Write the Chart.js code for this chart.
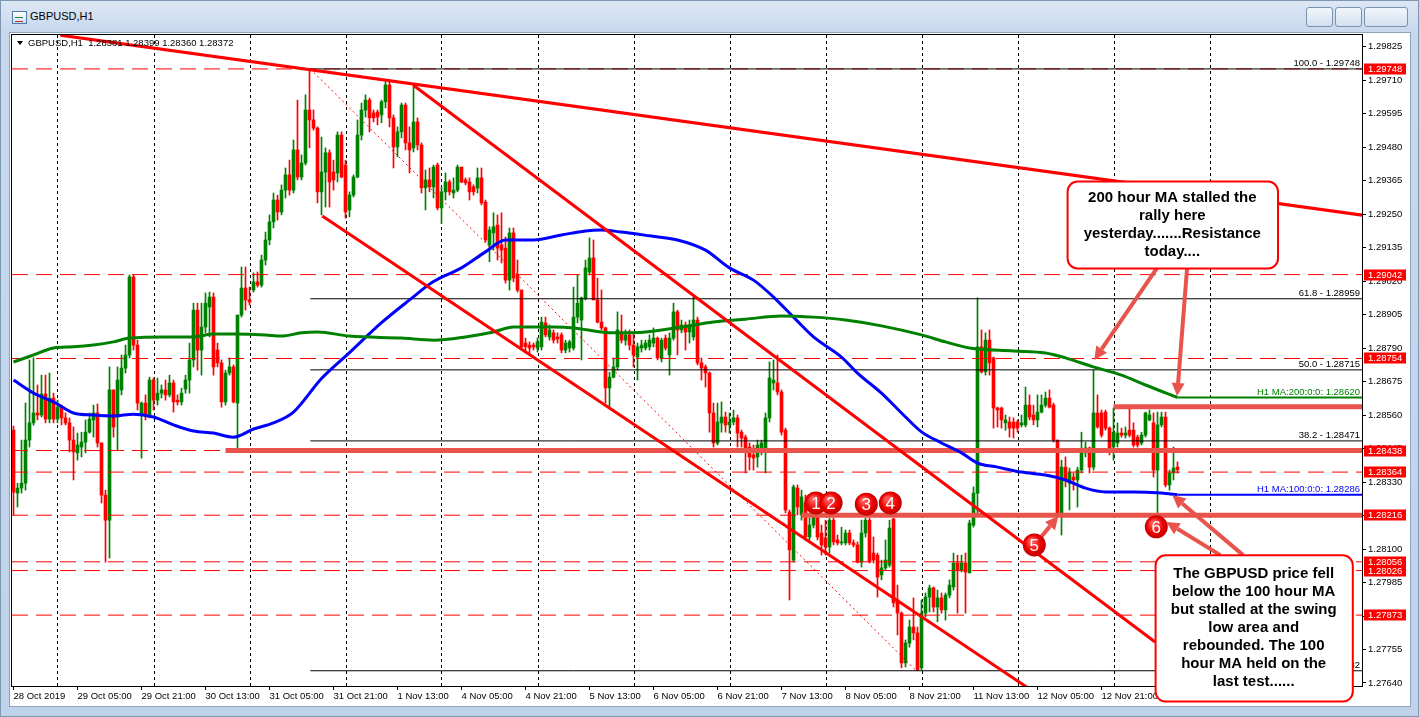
<!DOCTYPE html>
<html><head><meta charset="utf-8">
<script src="https://cdn.jsdelivr.net/npm/chart.js@4.4.0/dist/chart.umd.min.js"></script>
<style>
html,body{margin:0;padding:0;width:1419px;height:717px;overflow:hidden;background:#c4d6ec;font-family:'Liberation Sans',Arial,sans-serif;}
#win{position:absolute;left:0;top:0;width:1417px;height:715px;border:1px solid #7f96b2;background:linear-gradient(#dce7f4 0px,#c8d9ee 30px,#bfd2ea 100%);}
#ttl{position:absolute;left:30px;top:10px;font-size:11px;color:#000;}
#icon{position:absolute;left:12px;top:11px;width:13px;height:11px;border:1px solid #4a78b0;background:linear-gradient(#ffffff,#cfe0f5);}
#icon:after{content:"";position:absolute;left:2px;top:5px;width:8px;height:3px;border-top:1px solid #2e7d32;border-bottom:1px solid #c62828;}
.btn{position:absolute;top:7px;height:18px;border:1px solid #7d93ad;border-radius:3px;background:linear-gradient(#f2f6fb,#d3e0ef);}
#client{position:absolute;left:9px;top:32px;width:1400px;height:673px;background:#fff;border:1px solid #8da3bd;}
canvas{position:absolute;left:0;top:0;}
</style></head>
<body>
<div id="win"></div>
<div id="icon"></div><div id="ttl">GBPUSD,H1</div>
<div class="btn" style="left:1306px;width:25px"></div>
<div class="btn" style="left:1335px;width:25px"></div>
<div class="btn" style="left:1364px;width:42px"></div>
<div id="client"></div>
<canvas id="c" width="1419" height="717"></canvas>
<script>
// ---------- data (hourly GBPUSD candles, 28 Oct 13:00 -> 13 Nov 16:00) ----------
const opens = [
1.28508,1.28292,1.28309,1.28326,1.28474,1.28533,1.28567,1.28560,1.28632,1.28546,
1.28618,1.28546,1.28587,1.28550,1.28533,1.28474,1.28430,1.28450,1.28467,1.28501,
1.28543,1.28567,1.28464,1.28285,1.28199,1.28646,1.28553,1.28646,1.28721,1.28766,
1.29034,1.28800,1.28560,1.28601,1.28560,1.28680,1.28611,1.28635,1.28646,1.28629,
1.28670,1.28611,1.28605,1.28649,1.28680,1.28749,1.28920,1.28783,1.28862,1.28931,
1.28965,1.28783,1.28739,1.28605,1.28704,1.28725,1.28601,1.28903,1.28996,1.28955,
1.28989,1.29017,1.29006,1.29092,1.29161,1.29223,1.29298,1.29257,1.29332,1.29384,
1.29332,1.29470,1.29377,1.29425,1.29607,1.29573,1.29545,1.29326,1.29394,1.29460,
1.29394,1.29391,1.29521,1.29418,1.29264,1.29315,1.29377,1.29521,1.29607,1.29641,
1.29597,1.29600,1.29590,1.29635,1.29693,1.29580,1.29480,1.29532,1.29624,1.29494,
1.29477,1.29566,1.29487,1.29340,1.29367,1.29343,1.29418,1.29271,1.29326,1.29360,
1.29322,1.29332,1.29411,1.29367,1.29360,1.29343,1.29339,1.29374,1.29291,1.29144,
1.29185,1.29212,1.29144,1.29133,1.29023,1.29185,1.29041,1.28989,1.28807,1.28800,
1.28800,1.28790,1.28794,1.28876,1.28828,1.28842,1.28828,1.28835,1.28783,1.28790,
1.28790,1.28896,1.28886,1.28962,1.29051,1.29099,1.28955,1.28879,1.28859,1.28653,
1.28690,1.28725,1.28845,1.28817,1.28835,1.28800,1.28759,1.28790,1.28790,1.28794,
1.28807,1.28824,1.28756,1.28824,1.28766,1.28824,1.28914,1.28852,1.28869,1.28845,
1.28828,1.28886,1.28739,1.28725,1.28704,1.28567,1.28464,1.28533,1.28553,1.28526,
1.28536,1.28550,1.28501,1.28484,1.28450,1.28423,1.28416,1.28440,1.28447,1.28550,
1.28670,1.28670,1.28639,1.28508,1.28227,1.28062,1.28309,1.28217,1.28258,1.28141,
1.28182,1.28224,1.28155,1.28138,1.28107,1.28199,1.28131,1.28121,1.28121,1.28155,
1.28121,1.28114,1.28055,1.28155,1.28199,1.28086,1.28079,1.28011,1.28035,1.28045,
1.28203,1.27925,1.27880,1.27709,1.27777,1.27832,1.27812,1.27692,1.27880,1.27935,
1.27966,1.27901,1.27932,1.27891,1.27942,1.27970,1.28052,1.28028,1.28052,1.28018,
1.28182,1.28292,1.28794,1.28708,1.28817,1.28756,1.28584,1.28584,1.28533,1.28536,
1.28536,1.28536,1.28526,1.28526,1.28594,1.28560,1.28543,1.28570,1.28594,1.28618,
1.28594,1.28474,1.28224,1.28381,1.28326,1.28347,1.28337,1.28371,1.28430,1.28447,
1.28381,1.28567,1.28567,1.28570,1.28515,1.28450,1.28464,1.28498,1.28491,1.28508,
1.28508,1.28484,1.28464,1.28491,1.28543,1.28533,1.28371,1.28526,1.28553,1.28320,
1.28361,1.28381];
const highs = [
1.28522,1.28326,1.28474,1.28601,1.28749,1.28756,1.28663,1.28697,1.28697,1.28704,
1.28635,1.28611,1.28594,1.28567,1.28550,1.28519,1.28498,1.28501,1.28543,1.28567,
1.28594,1.28598,1.28464,1.28302,1.28725,1.28646,1.28725,1.28766,1.28800,1.29041,
1.29041,1.28817,1.28605,1.28629,1.28690,1.28687,1.28687,1.28663,1.28680,1.28697,
1.28680,1.28629,1.28652,1.28697,1.28807,1.28944,1.28944,1.28944,1.28979,1.28982,
1.28979,1.28807,1.28749,1.28714,1.28756,1.28732,1.28903,1.29068,1.29068,1.28999,
1.29048,1.29051,1.29109,1.29188,1.29247,1.29322,1.29315,1.29350,1.29408,1.29435,
1.29504,1.29641,1.29453,1.29659,1.29748,1.29607,1.29549,1.29514,1.29477,1.29470,
1.29435,1.29532,1.29532,1.29435,1.29326,1.29384,1.29573,1.29631,1.29659,1.29648,
1.29607,1.29607,1.29641,1.29703,1.29710,1.29590,1.29549,1.29631,1.29631,1.29549,
1.29686,1.29580,1.29494,1.29401,1.29408,1.29418,1.29425,1.29343,1.29391,1.29367,
1.29374,1.29418,1.29411,1.29374,1.29374,1.29350,1.29408,1.29408,1.29298,1.29206,
1.29254,1.29247,1.29254,1.29171,1.29202,1.29202,1.29092,1.28989,1.28824,1.28811,
1.28807,1.28824,1.28896,1.28896,1.28869,1.28852,1.28842,1.28842,1.28817,1.28817,
1.28999,1.29041,1.28965,1.29092,1.29168,1.29161,1.29030,1.28989,1.28862,1.28707,
1.28756,1.28914,1.28903,1.28852,1.28852,1.28842,1.28807,1.28817,1.28817,1.28835,
1.28859,1.28828,1.28824,1.28835,1.28842,1.28944,1.28920,1.28886,1.28879,1.28886,
1.28965,1.28896,1.28756,1.28732,1.28708,1.28601,1.28601,1.28605,1.28570,1.28567,
1.28577,1.28560,1.28508,1.28491,1.28464,1.28457,1.28474,1.28474,1.28567,1.28742,
1.28749,1.28766,1.28646,1.28515,1.28234,1.28320,1.28320,1.28302,1.28285,1.28206,
1.28241,1.28234,1.28182,1.28199,1.28206,1.28206,1.28148,1.28175,1.28165,1.28165,
1.28131,1.28124,1.28199,1.28206,1.28206,1.28141,1.28086,1.28062,1.28131,1.28199,
1.28206,1.27976,1.27884,1.27788,1.27856,1.27932,1.27832,1.27925,1.27949,1.27976,
1.27970,1.27959,1.27949,1.27949,1.27994,1.28086,1.28079,1.28079,1.28086,1.28199,
1.28313,1.28962,1.28852,1.28842,1.28852,1.28759,1.28587,1.28587,1.28560,1.28553,
1.28550,1.28543,1.28560,1.28656,1.28629,1.28594,1.28629,1.28629,1.28639,1.28646,
1.28601,1.28474,1.28405,1.28416,1.28378,1.28361,1.28381,1.28501,1.28467,1.28450,
1.28714,1.28629,1.28577,1.28577,1.28519,1.28584,1.28533,1.28515,1.28519,1.28584,
1.28533,1.28491,1.28501,1.28570,1.28577,1.28567,1.28570,1.28570,1.28570,1.28371,
1.28450,1.28399];
const lows = [
1.28217,1.28244,1.28292,1.28302,1.28450,1.28525,1.28543,1.28553,1.28533,1.28533,
1.28533,1.28533,1.28526,1.28526,1.28433,1.28337,1.28405,1.28416,1.28430,1.28498,
1.28484,1.28450,1.28258,1.28055,1.28069,1.28484,1.28440,1.28629,1.28704,1.28756,
1.28783,1.28577,1.28412,1.28543,1.28550,1.28577,1.28594,1.28618,1.28611,1.28622,
1.28570,1.28594,1.28594,1.28635,1.28635,1.28725,1.28714,1.28697,1.28842,1.28828,
1.28697,1.28725,1.28587,1.28594,1.28697,1.28601,1.28447,1.28896,1.28920,1.28938,
1.28982,1.28999,1.28999,1.29075,1.29144,1.29202,1.29229,1.29247,1.29305,1.29315,
1.29322,1.29367,1.29367,1.29418,1.29477,1.29538,1.29288,1.29247,1.29274,1.29274,
1.29332,1.29360,1.29374,1.29236,1.29240,1.29308,1.29374,1.29504,1.29583,1.29532,
1.29566,1.29556,1.29563,1.29614,1.29549,1.29408,1.29446,1.29511,1.29470,1.29391,
1.29463,1.29470,1.29322,1.29264,1.29326,1.29305,1.29264,1.29219,1.29298,1.29315,
1.29305,1.29326,1.29357,1.29350,1.29298,1.29315,1.29322,1.29281,1.29154,1.29086,
1.29126,1.29092,1.29082,1.29013,1.28989,1.29017,1.28982,1.28783,1.28773,1.28773,
1.28783,1.28776,1.28783,1.28828,1.28817,1.28807,1.28807,1.28773,1.28773,1.28776,
1.28783,1.28876,1.28749,1.28955,1.29041,1.28955,1.28876,1.28852,1.28601,1.28584,
1.28687,1.28714,1.28807,1.28800,1.28783,1.28725,1.28680,1.28776,1.28783,1.28783,
1.28794,1.28749,1.28742,1.28783,1.28697,1.28817,1.28766,1.28842,1.28783,1.28807,
1.28817,1.28732,1.28680,1.28656,1.28501,1.28450,1.28457,1.28501,1.28501,1.28498,
1.28526,1.28450,1.28450,1.28361,1.28371,1.28371,1.28381,1.28423,1.28361,1.28536,
1.28646,1.28629,1.28491,1.28224,1.27925,1.28055,1.28217,1.28199,1.28131,1.28131,
1.28172,1.28131,1.28079,1.28079,1.28086,1.28114,1.28114,1.28114,1.28114,1.28114,
1.28107,1.28052,1.28038,1.28141,1.28052,1.28052,1.27935,1.27994,1.28028,1.28038,
1.27901,1.27805,1.27692,1.27695,1.27763,1.27788,1.27682,1.27685,1.27867,1.27884,
1.27884,1.27850,1.27880,1.27856,1.27932,1.27959,1.27880,1.28021,1.27880,1.28018,
1.28175,1.28224,1.28704,1.28697,1.28697,1.28515,1.28519,1.28515,1.28508,1.28484,
1.28481,1.28501,1.28519,1.28519,1.28543,1.28526,1.28519,1.28567,1.28587,1.28584,
1.28467,1.28217,1.28148,1.28313,1.28234,1.28302,1.28244,1.28361,1.28416,1.28361,
1.28371,1.28515,1.28484,1.28508,1.28423,1.28405,1.28450,1.28484,1.28481,1.28484,
1.28450,1.28450,1.28457,1.28484,1.28540,1.28347,1.28224,1.28519,1.28313,1.28302,
1.28337,1.28360];
const closes = [
1.28295,1.28309,1.28326,1.28474,1.28533,1.28567,1.28560,1.28632,1.28546,1.28618,
1.28546,1.28587,1.28550,1.28533,1.28474,1.28433,1.28457,1.28467,1.28501,1.28546,
1.28567,1.28464,1.28285,1.28199,1.28646,1.28519,1.28680,1.28721,1.28766,1.29034,
1.28800,1.28601,1.28601,1.28560,1.28680,1.28611,1.28635,1.28646,1.28629,1.28670,
1.28605,1.28605,1.28635,1.28680,1.28749,1.28920,1.28783,1.28862,1.28944,1.28965,
1.28725,1.28739,1.28605,1.28704,1.28725,1.28605,1.28903,1.28996,1.28955,1.28948,
1.29017,1.29006,1.29092,1.29161,1.29223,1.29298,1.29257,1.29332,1.29384,1.29332,
1.29470,1.29377,1.29425,1.29607,1.29573,1.29545,1.29326,1.29394,1.29460,1.29360,
1.29367,1.29521,1.29377,1.29257,1.29315,1.29377,1.29521,1.29607,1.29641,1.29580,
1.29580,1.29583,1.29635,1.29693,1.29580,1.29480,1.29532,1.29624,1.29494,1.29470,
1.29566,1.29487,1.29340,1.29367,1.29343,1.29411,1.29271,1.29326,1.29360,1.29326,
1.29332,1.29411,1.29360,1.29357,1.29326,1.29326,1.29374,1.29288,1.29161,1.29195,
1.29206,1.29133,1.29126,1.29023,1.29185,1.29030,1.28989,1.28794,1.28794,1.28790,
1.28794,1.28811,1.28879,1.28835,1.28852,1.28817,1.28821,1.28783,1.28807,1.28811,
1.28896,1.28944,1.28962,1.29065,1.29099,1.28955,1.28879,1.28859,1.28653,1.28690,
1.28725,1.28852,1.28817,1.28835,1.28800,1.28766,1.28794,1.28800,1.28807,1.28817,
1.28824,1.28756,1.28817,1.28790,1.28824,1.28914,1.28852,1.28869,1.28845,1.28869,
1.28886,1.28739,1.28721,1.28704,1.28567,1.28464,1.28536,1.28553,1.28526,1.28536,
1.28550,1.28498,1.28481,1.28447,1.28416,1.28412,1.28457,1.28464,1.28550,1.28687,
1.28680,1.28639,1.28501,1.28234,1.28097,1.28313,1.28244,1.28279,1.28141,1.28182,
1.28224,1.28141,1.28114,1.28107,1.28199,1.28124,1.28121,1.28124,1.28155,1.28121,
1.28114,1.28055,1.28155,1.28199,1.28055,1.28062,1.28004,1.28035,1.28062,1.28172,
1.27915,1.27880,1.27709,1.27777,1.27832,1.27812,1.27685,1.27880,1.27935,1.27966,
1.27901,1.27932,1.27891,1.27942,1.27976,1.28052,1.28028,1.28052,1.28021,1.28189,
1.28292,1.28794,1.28708,1.28817,1.28739,1.28584,1.28577,1.28543,1.28543,1.28515,
1.28515,1.28515,1.28533,1.28594,1.28553,1.28543,1.28570,1.28594,1.28618,1.28587,
1.28474,1.28224,1.28381,1.28337,1.28364,1.28337,1.28371,1.28440,1.28447,1.28381,
1.28567,1.28519,1.28491,1.28515,1.28447,1.28501,1.28498,1.28491,1.28498,1.28491,
1.28457,1.28457,1.28491,1.28567,1.28560,1.28371,1.28526,1.28553,1.28320,1.28361,
1.28378,1.28372];

// moving averages (bar index -> value)
const ma100Idx = [0,5,10,15,20,25,30,35,40,45,50,55,60,65,70,77,84,92,99,105,112,118,123,130,137,143,147,152,159,166,173,179,185,190,195,200,207,211,217,222,227,232,237,241,246,252,258,263,268,273,280,287,291];
const ma100Val = [1.28680,1.28635,1.28605,1.28567,1.28560,1.28557,1.28563,1.28553,1.28526,1.28505,1.28498,1.28484,1.28512,1.28533,1.28570,1.28685,1.28774,1.28877,1.28955,1.29018,1.29065,1.29120,1.29161,1.29161,1.29178,1.29192,1.29195,1.29188,1.29175,1.29161,1.29126,1.29065,1.29023,1.28965,1.28896,1.28828,1.28759,1.28704,1.28635,1.28567,1.28502,1.28464,1.28430,1.28395,1.28381,1.28364,1.28354,1.28337,1.28309,1.28296,1.28296,1.28292,1.28286];
const ma200Idx = [0,5,10,15,20,25,29,38,45,50,55,63,67,72,76,84,97,105,113,120,125,135,140,147,150,158,167,175,183,192,200,208,217,227,233,239,250,258,263,270,277,283,291];
const ma200Val = [1.28742,1.28766,1.28790,1.28794,1.28800,1.28811,1.28824,1.28828,1.28828,1.28838,1.28838,1.28835,1.28831,1.28842,1.28845,1.28831,1.28824,1.28817,1.28828,1.28845,1.28862,1.28862,1.28859,1.28845,1.28842,1.28845,1.28862,1.28879,1.28889,1.28900,1.28896,1.28886,1.28866,1.28835,1.28811,1.28790,1.28780,1.28773,1.28756,1.28725,1.28697,1.28663,1.28620];
const ma100Last = 1.28286, ma200Last = 1.28620;

// axis ticks / labels
const priceTicks = [1.29825,1.29710,1.29595,1.29480,1.29365,1.29250,1.29135,1.29020,1.28905,1.28790,1.28675,1.28560,1.28445,1.28330,1.28215,1.28100,1.27985,1.27870,1.27755,1.27640];
const timeTickIdx = [0,16,32,48,64,80,96,112,128,144,160,176,192,208,224,240,256,272,288];
const timeLabels = ['28 Oct 2019','29 Oct 05:00','29 Oct 21:00','30 Oct 13:00','31 Oct 05:00','31 Oct 21:00','1 Nov 13:00','4 Nov 05:00','4 Nov 21:00','5 Nov 13:00','6 Nov 05:00','6 Nov 21:00','7 Nov 13:00','8 Nov 05:00','8 Nov 21:00','11 Nov 13:00','12 Nov 05:00','12 Nov 21:00','13 Nov 13:00'];
const dayIdx = [11,35,59,83,107,131,155,179,203,227,251,275,299];

// levels and drawn objects
const redLevels = [1.29748,1.29042,1.28754,1.28438,1.28364,1.28216,1.28056,1.28026,1.27873];
const fibLevels = [1.29748,1.28959,1.28715,1.28471,1.27682];
const fibNames = ['100.0','61.8','50.0','38.2','0.0'];
const zoneLevels = [1.28438,1.28216,1.28588];
const zoneStartIdx = [53,197,275];
const trendX = [[11.7,337.2],[99.9,285.4],[77.2,258.1],[74.2,225.7]];
const trendY = [[1.29864,1.29246],[1.29693,1.27781],[1.29243,1.27582],[1.29748,1.27682]];
const markerText = ['1','2','3','4','5','6'];
const markerIdx = [200.6,204.4,213.2,219.2,255.2,285.7];
const markerVal = [1.28258,1.28258,1.28254,1.28258,1.28114,1.28176];
const arrowFrom = [[285.9,1.29065],[293.4,1.29065],[307.4,1.28079],[301.7,1.28079],[256.7,1.28138]];
const arrowTo = [[270.2,1.28749],[290.9,1.28625],[289.7,1.28285],[288.2,1.28193],[261.2,1.28213]];
const note1 = ['200 hour MA stalled the','rally here','yesterday.......Resistance','today....'];
const note2 = ['The GBPUSD price fell','below the 100 hour MA','but stalled at the swing','low area and','rebounded. The 100','hour MA held on the','last test......'];
const note1Box = [263.4,316.0,1.29363,1.29065];
const note2Box = [285.4,334.7,1.28080,1.27578];
const header = ['GBPUSD,H1','1.28381','1.28399','1.28360','1.28372'];

// ---------- chart ----------
const FONT = "'Liberation Sans', Arial, sans-serif";
const XMIN = -0.375, XMAX = 337.125, YMIN = 1.276297, YMAX = 1.298645;
const GREEN = '#008000', RED = '#ff0000', SALMON = '#e8544c';
const cColor = closes.map((c,i)=> c >= opens[i] ? GREEN : RED);

const datasets = [];
datasets.push({type:'bar', data: lows.map((l,i)=>({x:i, y:[l, highs[i]]})), backgroundColor:cColor, barThickness:1, grouped:false, order:50, clip:0});
datasets.push({type:'bar', data: opens.map((o,i)=>({x:i, y:[o, closes[i]]})), backgroundColor:cColor, barThickness:3, minBarLength:1, grouped:false, order:49, clip:0});
function line(xs, ys, color, width, dash, order, smooth){
  datasets.push({type:'line', data: xs.map((x,i)=>({x, y:ys[i]})), borderColor:color, borderWidth:width, borderDash:dash||[], pointRadius:0, fill:false, tension:0, cubicInterpolationMode: smooth?'monotone':'default', order, clip:0, borderCapStyle:'butt'});
}
redLevels.forEach(v=> line([XMIN, XMAX+1], [v, v], RED, 1, [16,8], 40));
fibLevels.forEach(v=> line([74.2, XMAX+1], [v, v], '#000', 1, null, 39));
line([trendX[3][0], trendX[3][1]], trendY[3], RED, 1, [2,3], 38);
zoneLevels.forEach((v,k)=> line([zoneStartIdx[k], XMAX+1], [v, v], SALMON, 5, null, 30));
line(ma200Idx, ma200Val, GREEN, 3, null, 20, true);
line(ma100Idx, ma100Val, '#0000ff', 3, null, 20, true);
line([291, XMAX+1], [ma200Last, ma200Last], GREEN, 2, null, 21);
line([291, XMAX+1], [ma100Last, ma100Last], '#0000ff', 2, null, 21);
for (let k=0;k<3;k++) line(trendX[k], trendY[k], RED, 3, null, 10);

function arrow(ctx, x1,y1,x2,y2){
  const a = Math.atan2(y2-y1, x2-x1), L = 13, W = 6.5;
  const bx = x2 - L*Math.cos(a), by = y2 - L*Math.sin(a);
  ctx.strokeStyle = SALMON; ctx.fillStyle = SALMON; ctx.lineWidth = 4; ctx.setLineDash([]);
  ctx.beginPath(); ctx.moveTo(x1,y1); ctx.lineTo(bx,by); ctx.stroke();
  ctx.beginPath(); ctx.moveTo(x2,y2);
  ctx.lineTo(bx + W*Math.sin(a), by - W*Math.cos(a));
  ctx.lineTo(bx - W*Math.sin(a), by + W*Math.cos(a)); ctx.closePath(); ctx.fill();
}
function callout(ctx, x, y, box, lines){
  const l = x.getPixelForValue(box[0]), r = x.getPixelForValue(box[1]);
  const t = y.getPixelForValue(box[2]), b = y.getPixelForValue(box[3]);
  ctx.beginPath(); ctx.roundRect(l+0.5, t+0.5, r-l, b-t, 10);
  ctx.fillStyle = '#fff'; ctx.fill(); ctx.lineWidth = 2; ctx.strokeStyle = RED; ctx.stroke();
  ctx.fillStyle = '#000'; ctx.font = 'bold 15px ' + FONT; ctx.textAlign = 'center'; ctx.textBaseline = 'middle';
  const lh = 18, y0 = (t+b)/2 - (lines.length-1)*lh/2;
  lines.forEach((s,k)=> ctx.fillText(s, (l+r)/2, y0 + k*lh));
}

const mt4 = {
  id:'mt4',
  beforeDatasetsDraw(chart){
    const {ctx, chartArea:a, scales:{x}} = chart;
    ctx.save(); ctx.strokeStyle = '#000'; ctx.lineWidth = 1; ctx.setLineDash([3,3]);
    dayIdx.forEach(d=>{ const px = Math.round(x.getPixelForValue(d)) + 0.5;
      ctx.beginPath(); ctx.moveTo(px, a.top); ctx.lineTo(px, a.bottom); ctx.stroke(); });
    ctx.restore();
  },
  afterDatasetsDraw(chart){
    const {ctx, chartArea:a, scales:{x,y}} = chart;
    ctx.save();
    ctx.font = '9.5px ' + FONT; ctx.textAlign = 'right'; ctx.textBaseline = 'alphabetic';
    ctx.fillStyle = '#000';
    fibLevels.forEach((v,k)=> ctx.fillText(fibNames[k] + ' - ' + v.toFixed(5), a.right - 2, y.getPixelForValue(v) - 3));
    ctx.fillStyle = GREEN; ctx.fillText('H1 MA:200:0:0: ' + ma200Last.toFixed(5), a.right - 2, y.getPixelForValue(ma200Last) - 3);
    ctx.fillStyle = '#0000ff'; ctx.fillText('H1 MA:100:0:0: ' + ma100Last.toFixed(5), a.right - 2, y.getPixelForValue(ma100Last) - 3);
    // header
    ctx.fillStyle = '#000'; ctx.textAlign = 'left'; ctx.textBaseline = 'middle';
    ctx.beginPath(); ctx.moveTo(a.left+5, a.top+6); ctx.lineTo(a.left+11, a.top+6); ctx.lineTo(a.left+8, a.top+10); ctx.closePath(); ctx.fill();
    ctx.fillText(header[0] + '  ' + header.slice(1).join(' '), a.left + 16, a.top + 8);
    ctx.restore();
  },
  afterDraw(chart){
    const {ctx, chartArea:a, scales:{x,y}} = chart;
    ctx.save();
    ctx.strokeStyle = '#000'; ctx.lineWidth = 1; ctx.setLineDash([]);
    ctx.strokeRect(a.left - 0.5, a.top - 0.5, a.right - a.left + 1, a.bottom - a.top + 1);
    // red price labels on the axis
    ctx.font = '9.5px ' + FONT; ctx.textAlign = 'left'; ctx.textBaseline = 'middle';
    redLevels.forEach(v=>{ const py = Math.round(y.getPixelForValue(v));
      ctx.fillStyle = RED; ctx.fillRect(a.right + 2, py - 5.5, 42, 11);
      ctx.fillStyle = '#fff'; ctx.fillText(v.toFixed(5), a.right + 6, py + 0.5); });
    // arrows
    arrowFrom.forEach((f,k)=> arrow(ctx, x.getPixelForValue(f[0]), y.getPixelForValue(f[1]), x.getPixelForValue(arrowTo[k][0]), y.getPixelForValue(arrowTo[k][1])));
    // numbered markers
    markerText.forEach((t,k)=>{
      const cx = x.getPixelForValue(markerIdx[k]), cy = y.getPixelForValue(markerVal[k]);
      const g = ctx.createRadialGradient(cx-3, cy-4, 2, cx, cy, 12);
      g.addColorStop(0, '#ff5a5a'); g.addColorStop(0.6, '#ee0000'); g.addColorStop(1, '#b80000');
      ctx.beginPath(); ctx.arc(cx, cy, 11.5, 0, Math.PI*2); ctx.fillStyle = g; ctx.fill();
      ctx.fillStyle = '#fff'; ctx.font = '17px ' + FONT; ctx.textAlign = 'center'; ctx.textBaseline = 'middle';
      ctx.fillText(t, cx, cy + 1);
    });
    callout(ctx, x, y, note1Box, note1);
    callout(ctx, x, y, note2Box, note2);
    ctx.restore();
  }
};

Chart.defaults.font.family = FONT;
new Chart(document.getElementById('c'), {
  type:'bar',
  data:{datasets},
  options:{
    responsive:false, animation:false, devicePixelRatio:1,
    layout:{padding:{left:12, top:35, right:9, bottom:11}},
    plugins:{legend:{display:false}, tooltip:{enabled:false}},
    scales:{
      x:{type:'linear', min:XMIN, max:XMAX, offset:false,
        grid:{drawOnChartArea:false, drawTicks:true, tickLength:4, color:'#000', offset:false},
        border:{display:true, color:'#000'},
        ticks:{autoSkip:false, maxRotation:0, align:'start', padding:1, color:'#000', font:{size:9.5},
          callback:(v)=> timeLabels[timeTickIdx.indexOf(v)] ?? ''},
        afterBuildTicks:(s)=>{ s.ticks = timeTickIdx.map(v=>({value:v})); },
        afterFit:(s)=>{ s.height = 20; }},
      y:{type:'linear', position:'right', min:YMIN, max:YMAX,
        grid:{drawOnChartArea:false, drawTicks:true, tickLength:4, color:'#000'},
        border:{display:true, color:'#000'},
        ticks:{padding:2, color:'#000', font:{size:9.5}, callback:(v)=> v.toFixed(5)},
        afterBuildTicks:(s)=>{ s.ticks = priceTicks.map(v=>({value:v})); },
        afterFit:(s)=>{ s.width = 48; }}
    }
  },
  plugins:[mt4]
});
</script>
</body></html>
